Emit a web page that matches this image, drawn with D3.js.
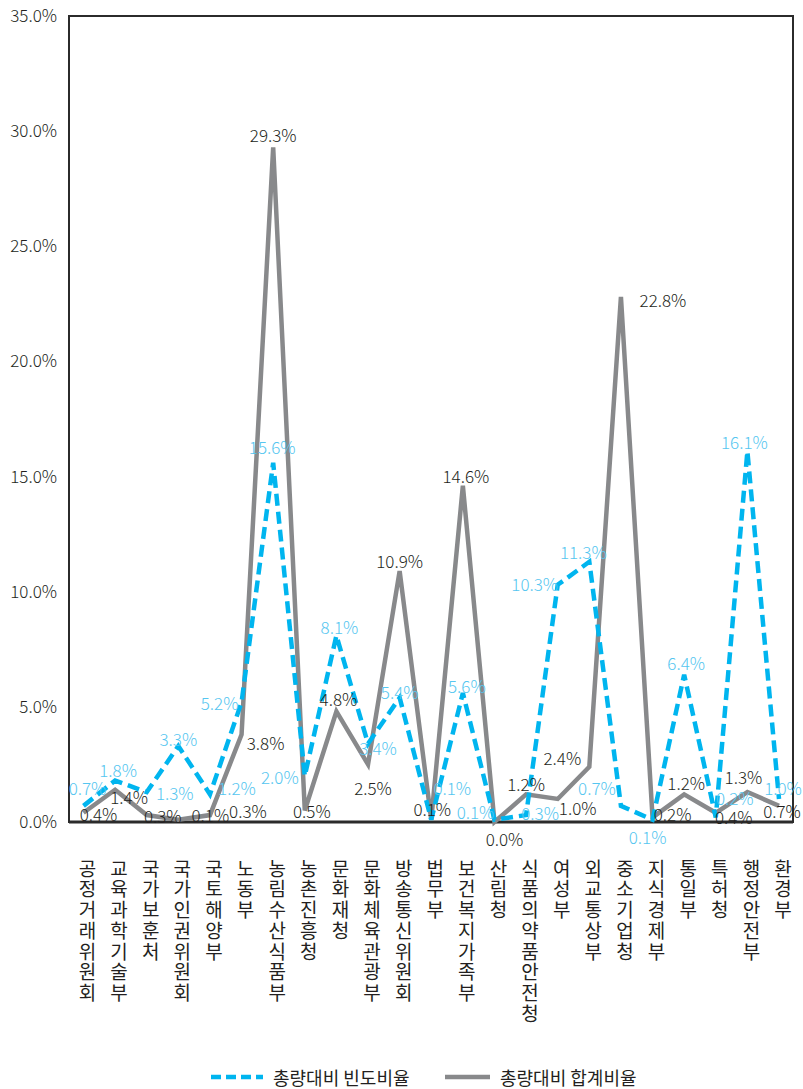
<!DOCTYPE html>
<html><head><meta charset="utf-8">
<script src="https://cdn.jsdelivr.net/npm/d3@7"></script>
<style>
html,body{margin:0;padding:0;background:#fff;}
svg text{font-family:"Noto Sans CJK KR","Noto Sans",sans-serif;}
.vlabel{writing-mode:vertical-rl;text-orientation:upright;}
</style></head>
<body>
<svg id="chart" width="803" height="1089"></svg>
<script>
const categories = ["공정거래위원회","교육과학기술부","국가보훈처","국가인권위원회","국토해양부","노동부","농림수산식품부","농촌진흥청","문화재청","문화체육관광부","방송통신위원회","법무부","보건복지가족부","산림청","식품의약품안전청","여성부","외교통상부","중소기업청","지식경제부","통일부","특허청","행정안전부","환경부"];
const freqRatio = [0.7,1.8,1.3,3.3,1.2,5.2,15.6,2.0,8.1,3.4,5.4,0.1,5.6,0.1,0.3,10.3,11.3,0.7,0.1,6.4,0.2,16.1,1.0];
const sumRatio  = [0.4,1.4,0.3,0.1,0.3,3.8,29.3,0.5,4.8,2.5,10.9,0.1,14.6,0.0,1.2,1.0,2.4,22.8,0.2,1.2,0.4,1.3,0.7];
const yTicks = [0,5,10,15,20,25,30,35];
const seriesNames = ["총량대비 빈도비율","총량대비 합계비율"];

// label nudges (layout only)
const freqDx = [4,3,28,0,27,-22,-1,-25,3,10,0,21,4,-19,14,-23,-6,-24,-5,2,19,-3,4];
const freqDy = [-18,-11,0,-8,-7,0,-16,1,-9,4,-6,-32,-8,-8,-3,-1,-10,-18,17,-12,-20,-10,-11];
const sumDx  = [15,14,16,32,38,24,0,7,2,5,0,1,3,10,0,20,-27,42,20,2,18,-4,3];
const sumDy  = [1,7,0,-5,-5,8,-13,0,-13,23,-10,-11,-10,16,-11,9,-9,3,-4,-12,4,-16,5];

const svg = d3.select("#chart");
const pLeft=69,pRight=793,pTop=16,pBottom=822;
const x = d3.scalePoint().domain(categories).range([83.5,779]);
const y = d3.scaleLinear().domain([0,35]).range([pBottom,pTop]);
const fmt = v => d3.format(".1%")(v/100);

const BLUE="#00b5ef", BLUE_TXT="#55c6f0", GRAY="#88898b", DARK="#231f20";

// plot border
svg.append("rect").attr("x",pLeft).attr("y",pTop).attr("width",pRight-pLeft).attr("height",pBottom-pTop)
  .attr("fill","none").attr("stroke","#2b2b2b").attr("stroke-width",2);
svg.append("line").attr("x1",pLeft).attr("x2",pRight).attr("y1",pBottom).attr("y2",pBottom)
  .attr("stroke","#2b2b2b").attr("stroke-width",3);

// y axis
const yAxis = d3.axisLeft(y).tickValues(yTicks).tickFormat(fmt).tickSize(0).tickPadding(12);
const ga = svg.append("g").attr("transform",`translate(${pLeft},0)`).call(yAxis);
ga.select(".domain").remove();
ga.selectAll("text").attr("font-size",17).attr("fill",DARK).attr("font-weight",300)
  .style("font-family","'Noto Sans CJK KR',sans-serif");

// lines
const line = d3.line().x((d,i)=>x(categories[i])).y(d=>y(d));
svg.append("path").datum(sumRatio).attr("d",line).attr("fill","none")
  .attr("stroke",GRAY).attr("stroke-width",4.5).attr("stroke-linejoin","miter");
svg.append("path").datum(freqRatio).attr("d",line).attr("fill","none")
  .attr("stroke",BLUE).attr("stroke-width",4.5).attr("stroke-dasharray","12,6");

// data labels
svg.append("g").selectAll("text").data(sumRatio).join("text")
  .attr("x",(d,i)=>x(categories[i])+sumDx[i]).attr("y",(d,i)=>y(d)+sumDy[i])
  .attr("text-anchor","middle").attr("dominant-baseline","central")
  .attr("font-size",17).attr("font-weight",300).attr("fill",DARK).text(d=>fmt(d));
svg.append("g").selectAll("text").data(freqRatio).join("text")
  .attr("x",(d,i)=>x(categories[i])+freqDx[i]).attr("y",(d,i)=>y(d)+freqDy[i])
  .attr("text-anchor","middle").attr("dominant-baseline","central")
  .attr("font-size",17).attr("font-weight",300).attr("fill",BLUE_TXT).text(d=>fmt(d));

// category labels: vertical upright text
svg.append("g").selectAll("text").data(categories).join("text")
  .attr("class","vlabel")
  .attr("x",d=>x(d)+4).attr("y",859)
  .attr("font-size",19).attr("letter-spacing",1.7).attr("fill",DARK)
  .text(d=>d);

// legend
const lg = svg.append("g");
lg.append("line").attr("x1",211).attr("x2",263).attr("y1",1077).attr("y2",1077)
  .attr("stroke",BLUE).attr("stroke-width",4.5).attr("stroke-dasharray","10,5");
lg.append("text").attr("x",273).attr("y",1077).attr("dominant-baseline","central")
  .attr("font-size",18).attr("fill",DARK).text(seriesNames[0]);
lg.append("line").attr("x1",445).attr("x2",490).attr("y1",1077).attr("y2",1077)
  .attr("stroke",GRAY).attr("stroke-width",4.5);
lg.append("text").attr("x",500).attr("y",1077).attr("dominant-baseline","central")
  .attr("font-size",18).attr("fill",DARK).text(seriesNames[1]);
</script>
</body></html>
